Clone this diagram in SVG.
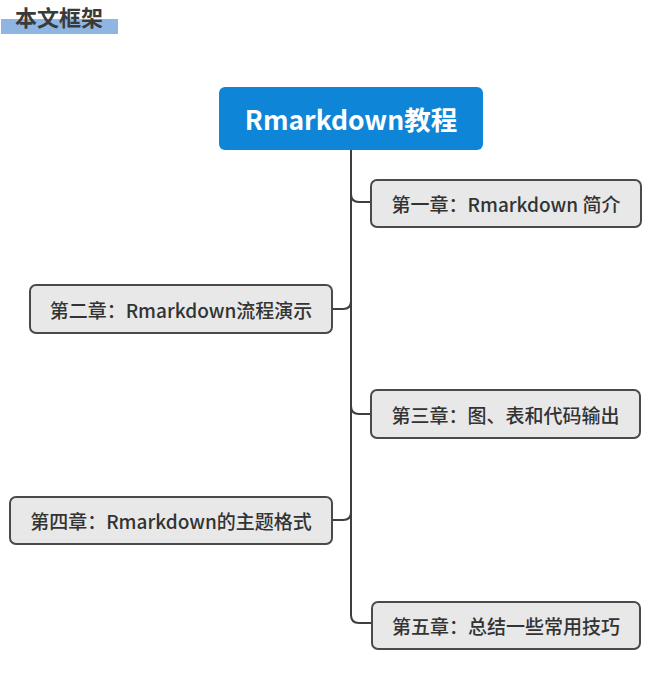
<svg xmlns="http://www.w3.org/2000/svg" width="653" height="697" viewBox="0 0 653 697">
<style>
.t{font-family:"Noto Sans CJK SC","Noto Sans",sans-serif;font-weight:500;fill:#333;font-size:19px;text-anchor:middle;dominant-baseline:central}
.n{fill:#e8e8e8;stroke:#4a4a4a;stroke-width:2}
.c{fill:none;stroke:#3f3f3f;stroke-width:2}
</style>
<rect width="653" height="697" fill="#ffffff"/>
<g id="title">
<rect x="1" y="19" width="117" height="15" fill="#8fb5e2"/>
<text x="15" y="26" style="font-family:'Noto Sans CJK SC',sans-serif;font-weight:700;font-size:22px;fill:#3a3a3a">本文框架</text>
</g>
<g id="connectors">
<path class="c" d="M351 150 V615 Q351 623 359 623 H372"/>
<path class="c" d="M351 194 Q351 202 359 202 H371"/>
<path class="c" d="M332 309 H343 Q351 309 351 301"/>
<path class="c" d="M351 406 Q351 414 359 414 H371"/>
<path class="c" d="M332 520 H343 Q351 520 351 512"/>
</g>
<g id="root">
<rect x="219" y="87" width="264" height="63" rx="6" fill="#0f85d7"/>
<text class="t" x="351" y="118" style="fill:#fff;font-size:26.5px;font-weight:700">Rmarkdown教程</text>
</g>
<g id="node1">
<rect class="n" x="371" y="180" width="270" height="47" rx="6"/>
<text class="t" x="506" y="203.5">第一章：Rmarkdown 简介</text>
</g>
<g id="node2">
<rect class="n" x="30" y="285" width="302" height="48" rx="6"/>
<text class="t" x="181" y="309">第二章：Rmarkdown流程演示</text>
</g>
<g id="node3">
<rect class="n" x="371" y="390" width="269" height="48" rx="6"/>
<text class="t" x="505.5" y="414">第三章：图、表和代码输出</text>
</g>
<g id="node4">
<rect class="n" x="10" y="497" width="322" height="47" rx="6"/>
<text class="t" x="171" y="520.5">第四章：Rmarkdown的主题格式</text>
</g>
<g id="node5">
<rect class="n" x="372" y="602" width="268" height="47" rx="6"/>
<text class="t" x="506" y="625.5">第五章：总结一些常用技巧</text>
</g>
</svg>
